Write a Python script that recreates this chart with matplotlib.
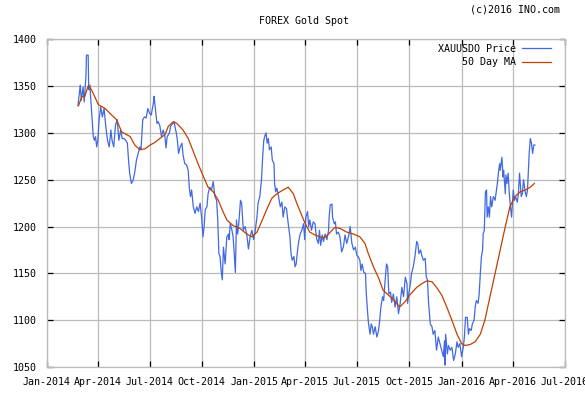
import matplotlib
matplotlib.use("Agg")
import matplotlib.pyplot as plt
import matplotlib.dates as mdates
import pandas as pd

# values
# days are counted from 2014-01-01
price_days = [55, 59, 61, 64, 66, 69, 70, 73, 74, 76, 78, 82, 84, 86, 88, 90, 92, 95, 98, 101,
              104, 107, 110, 113, 115, 118, 121, 124, 127, 130, 133, 136, 139, 142, 144, 146, 149, 152, 155, 158,
              161, 164, 166, 169, 172, 175, 178, 181, 184, 188, 189, 194, 196, 199, 202, 205, 208, 210, 212, 216,
              218, 222, 224, 228, 230, 232, 235, 238, 240, 243, 246, 249, 251, 253, 255, 258, 261, 264, 267, 270,
              273, 275, 277, 279, 282, 284, 287, 290, 293, 296, 299, 301, 303, 305, 307, 309, 311, 314, 317, 320,
              321, 323, 326, 328, 330, 332, 334, 336, 338, 341, 343, 346, 349, 352, 355, 358, 361, 364, 367, 370,
              372, 375, 378, 380, 382, 384, 386, 388, 390, 392, 395, 397, 400, 401, 403, 405, 408, 411, 414, 416,
              419, 422, 425, 428, 430, 432, 435, 437, 439, 442, 444, 446, 449, 452, 454, 456, 459, 461, 463, 466,
              469, 472, 475, 478, 480, 482, 485, 487, 490, 493, 496, 497, 499, 502, 503, 506, 508, 510, 513, 516,
              519, 522, 525, 528, 531, 534, 537, 540, 543, 546, 548, 551, 553, 555, 558, 561, 562, 564, 566, 569,
              571, 573, 575, 578, 581, 584, 586, 588, 591, 593, 595, 598, 600, 602, 605, 607, 610, 613, 616, 619,
              622, 625, 628, 631, 634, 635, 638, 640, 642, 645, 648, 651, 653, 655, 658, 660, 663, 666, 668, 670,
              672, 675, 678, 680, 683, 686, 689, 692, 695, 698, 700, 701, 702, 705, 707, 710, 713, 716, 719, 722,
              724, 727, 730, 733, 735, 737, 740, 742, 744, 747, 749, 752, 754, 756, 759, 761, 763, 765, 767, 768,
              770, 772, 774, 775, 777, 779, 781, 783, 786, 789, 791, 793, 795, 797, 798, 801, 803, 804, 807, 808,
              810, 812, 814, 816, 818, 821, 823, 825, 828, 830, 832, 835, 837, 839, 842, 844, 846, 849, 851, 853,
              855, 857, 859]
price_vals = [1329, 1351, 1335, 1349, 1333, 1360, 1383, 1383, 1346, 1351, 1332, 1296, 1292, 1296, 1285, 1292, 1312, 1328, 1317, 1326,
              1307, 1292, 1285, 1303, 1292, 1285, 1308, 1314, 1292, 1303, 1294, 1294, 1292, 1289, 1271, 1257, 1246, 1249, 1258, 1271,
              1278, 1285, 1282, 1314, 1317, 1316, 1326, 1321, 1319, 1333, 1339, 1310, 1312, 1308, 1296, 1303, 1296, 1284, 1296, 1300,
              1307, 1310, 1312, 1300, 1292, 1278, 1285, 1289, 1276, 1267, 1266, 1260, 1241, 1232, 1239, 1221, 1214, 1221, 1216, 1225,
              1207, 1189, 1200, 1218, 1221, 1235, 1242, 1239, 1248, 1232, 1228, 1207, 1171, 1168, 1153, 1143, 1178, 1160, 1189, 1192,
              1186, 1203, 1196, 1189, 1171, 1151, 1207, 1192, 1203, 1228, 1225, 1196, 1200, 1192, 1176, 1189, 1196, 1186, 1196, 1210,
              1225, 1232, 1250, 1274, 1292, 1297, 1300, 1289, 1294, 1282, 1285, 1271, 1267, 1246, 1237, 1241, 1232, 1221, 1226, 1210,
              1221, 1219, 1203, 1189, 1171, 1164, 1168, 1157, 1160, 1178, 1186, 1192, 1196, 1203, 1186, 1210, 1216, 1200, 1207, 1196,
              1205, 1203, 1187, 1182, 1196, 1180, 1191, 1184, 1192, 1186, 1196, 1210, 1223, 1224, 1210, 1203, 1205, 1192, 1194, 1189,
              1173, 1178, 1191, 1182, 1189, 1200, 1182, 1175, 1178, 1169, 1168, 1164, 1153, 1160, 1151, 1150, 1132, 1114, 1098, 1085,
              1096, 1093, 1085, 1093, 1082, 1089, 1100, 1114, 1125, 1121, 1139, 1160, 1157, 1128, 1130, 1119, 1128, 1114, 1125, 1107,
              1118, 1135, 1125, 1146, 1139, 1118, 1132, 1139, 1150, 1157, 1168, 1184, 1182, 1171, 1175, 1169, 1164, 1166, 1146, 1143,
              1118, 1096, 1093, 1085, 1089, 1068, 1082, 1075, 1068, 1061, 1078, 1052, 1085, 1064, 1073, 1068, 1071, 1057, 1064, 1077,
              1071, 1075, 1061, 1071, 1082, 1103, 1103, 1085, 1091, 1089, 1096, 1100, 1114, 1121, 1118, 1128, 1150, 1168, 1175, 1192,
              1196, 1237, 1239, 1210, 1221, 1210, 1232, 1221, 1232, 1228, 1237, 1246, 1258, 1267, 1260, 1274, 1253, 1260, 1235, 1255,
              1246, 1257, 1235, 1221, 1210, 1239, 1228, 1232, 1226, 1235, 1257, 1232, 1235, 1250, 1237, 1232, 1239, 1278, 1294, 1289,
              1278, 1287, 1287]

ma_days = [56, 62, 67, 73, 76, 82, 91, 97, 103, 111, 123, 132, 141, 147, 155, 164, 173, 182, 191, 199,
           208, 214, 223, 229, 240, 249, 258, 267, 276, 284, 293, 302, 308, 317, 328, 340, 352, 361, 370, 378,
           387, 396, 405, 416, 425, 434, 440, 446, 455, 463, 472, 481, 487, 493, 499, 507, 516, 528, 540, 551,
           560, 566, 575, 584, 592, 601, 610, 621, 631, 639, 651, 660, 669, 678, 686, 695, 704, 713, 722, 730,
           736, 745, 754, 763, 771, 780, 789, 798, 807, 815, 824, 833, 842, 851, 858]
ma_vals = [1329, 1339, 1339, 1350, 1349, 1342, 1330, 1328, 1326, 1321, 1314, 1301, 1298, 1296, 1287, 1282, 1283, 1287, 1290, 1294,
           1298, 1307, 1312, 1310, 1303, 1294, 1280, 1266, 1253, 1242, 1237, 1228, 1219, 1207, 1201, 1198, 1192, 1189, 1194, 1205,
           1218, 1230, 1235, 1239, 1242, 1235, 1225, 1216, 1203, 1194, 1191, 1189, 1188, 1190, 1194, 1199, 1198, 1194, 1192, 1189,
           1182, 1171, 1157, 1145, 1132, 1127, 1122, 1114, 1120, 1127, 1135, 1139, 1142, 1141, 1135, 1127, 1114, 1100, 1085, 1075,
           1073, 1074, 1077, 1085, 1100, 1125, 1150, 1175, 1200, 1221, 1232, 1237, 1239, 1242, 1246]

y_ticks = [1050, 1100, 1150, 1200, 1250, 1300, 1350, 1400]

start = pd.Timestamp("2014-01-01")
price_dates = start + pd.to_timedelta(price_days, unit="D")
ma_dates = start + pd.to_timedelta(ma_days, unit="D")

plt.rcParams['font.family'] = ['DejaVu Sans Mono']
plt.rcParams['font.size'] = 7.2

fig = plt.figure(figsize=(5.85, 3.94), dpi=100)
ax = fig.add_axes([0.0798, 0.0685, 0.8860, 0.832])

ax.plot(price_dates, price_vals, color='#4169e1', lw=0.9, label='XAUUSDO Price')
ax.plot(ma_dates, ma_vals, color='#c04000', lw=0.9, label='50 Day MA')

ax.set_xlim(pd.Timestamp("2014-01-01"), pd.Timestamp("2016-07-01"))
ax.set_ylim(1050, 1400)
ax.set_yticks(y_ticks)
ax.xaxis.set_major_locator(mdates.MonthLocator(bymonth=[1, 4, 7, 10]))
ax.xaxis.set_major_formatter(mdates.DateFormatter('%b-%Y'))

ax.grid(True, color='#bbbbbb', lw=0.9)
ax.set_axisbelow(True)
for s in ax.spines.values():
    s.set_color('#bbbbbb')
    s.set_linewidth(0.9)
ax.tick_params(direction='in', length=4, width=0.9, color='black',
               top=True, right=True, labelsize=7.2)
ax.tick_params(axis='x', pad=7)
ax.tick_params(axis='y', pad=7)

leg = ax.legend(loc='upper right', bbox_to_anchor=(0.985, 1.005), frameon=False,
                markerfirst=False, handlelength=2.9, handletextpad=0.6,
                labelspacing=0.35, borderaxespad=0.2, fontsize=7.2)

fig.text(0.52, 0.947, 'FOREX Gold Spot', ha='center', va='center', fontsize=7.2)
fig.text(0.957, 0.976, '(c)2016 INO.com', ha='right', va='center', fontsize=7.2)

fig.savefig('out.png', dpi=100)
